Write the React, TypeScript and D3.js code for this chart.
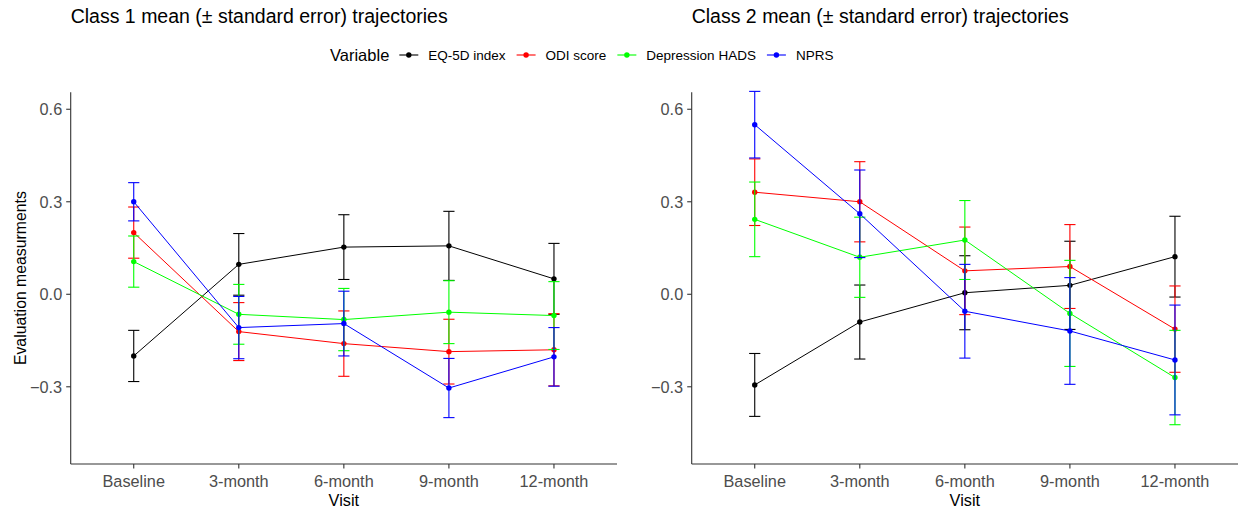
import React from 'react';
import * as d3 from 'd3';

const visits = ['Baseline', '3-month', '6-month', '9-month', '12-month'];
const variables = ['EQ-5D index', 'ODI score', 'Depression HADS', 'NPRS'];
const varColors = ['#000000', '#ff0000', '#00ff00', '#0000ff'];
const yTicks = [-0.3, 0, 0.3, 0.6];

// Class 1 means and standard errors (one row per variable, one value per visit)
const class1Mean = [
  [-0.2, 0.097, 0.153, 0.157, 0.05],
  [0.2, -0.121, -0.16, -0.186, -0.18],
  [0.106, -0.065, -0.082, -0.058, -0.069],
  [0.3, -0.108, -0.095, -0.304, -0.203],
];
const class1Se = [
  [0.083, 0.1, 0.105, 0.112, 0.115],
  [0.083, 0.094, 0.106, 0.105, 0.117],
  [0.083, 0.097, 0.101, 0.102, 0.11],
  [0.062, 0.101, 0.105, 0.096, 0.095],
];

// Class 2
const class2Mean = [
  [-0.294, -0.09, 0.005, 0.029, 0.122],
  [0.331, 0.3, 0.076, 0.09, -0.113],
  [0.243, 0.12, 0.176, -0.062, -0.27],
  [0.55, 0.261, -0.055, -0.119, -0.213],
];
const class2Se = [
  [0.102, 0.12, 0.12, 0.143, 0.131],
  [0.108, 0.13, 0.142, 0.136, 0.14],
  [0.121, 0.13, 0.128, 0.172, 0.153],
  [0.108, 0.142, 0.152, 0.173, 0.178],
];

const FONT = "'Liberation Sans', Arial, sans-serif";
const W = 1238;
const H = 512;
const TOP = 92.3;
const BOTTOM = 464;
const TICK_FS = 16.3;

const y = d3.scaleLinear().domain([-0.5504, 0.655]).range([BOTTOM, TOP]);
const fmt = d3.format('.1f');

type PanelProps = {
  x0: number;
  x1: number;
  title: string;
  means: number[][];
  ses: number[][];
  yLabel?: boolean;
};

const Panel = ({ x0, x1, title, means, ses, yLabel }: PanelProps) => {
  const x = d3.scalePoint<string>().domain(visits).range([x0, x1]).padding(0.6);
  const line = d3
    .line<number>()
    .x((_, i) => x(visits[i]) as number)
    .y((d) => y(d));
  const cap = 5.6;

  return (
    <g>
      <text x={x0} y={23.3} fontSize={19.5} fill="#000" fontFamily={FONT}>
        {title}
      </text>

      {/* axes */}
      <line x1={x0} x2={x0} y1={TOP} y2={BOTTOM} stroke="#333" strokeWidth={1.1} />
      <line x1={x0} x2={x1} y1={BOTTOM} y2={BOTTOM} stroke="#333" strokeWidth={1.1} />
      {yTicks.map((t) => (
        <g key={t}>
          <line x1={x0 - 4.5} x2={x0} y1={y(t)} y2={y(t)} stroke="#333" strokeWidth={1.1} />
          <text
            x={x0 - 8.5}
            y={y(t)}
            dy="0.36em"
            textAnchor="end"
            fontSize={TICK_FS}
            fill="#4d4d4d"
            fontFamily={FONT}
          >
            {fmt(t)}
          </text>
        </g>
      ))}
      {visits.map((v) => (
        <g key={v}>
          <line x1={x(v)} x2={x(v)} y1={BOTTOM} y2={BOTTOM + 4.5} stroke="#333" strokeWidth={1.1} />
          <text x={x(v)} y={486.7} textAnchor="middle" fontSize={TICK_FS} fill="#4d4d4d" fontFamily={FONT}>
            {v}
          </text>
        </g>
      ))}
      <text x={(x0 + x1) / 2} y={506} textAnchor="middle" fontSize={16.3} fill="#000" fontFamily={FONT}>
        Visit
      </text>
      {yLabel && (
        <text
          transform={`translate(26,${(TOP + BOTTOM) / 2}) rotate(-90)`}
          textAnchor="middle"
          fontSize={15.8}
          fill="#000"
          fontFamily={FONT}
        >
          Evaluation measurments
        </text>
      )}

      {/* series */}
      {variables.map((name, k) => (
        <g key={name}>
          <path d={line(means[k]) || ''} fill="none" stroke={varColors[k]} strokeWidth={1} />
          {means[k].map((m, i) => {
            const cx = x(visits[i]) as number;
            const lo = y(m - ses[k][i]);
            const hi = y(m + ses[k][i]);
            return (
              <g key={i} stroke={varColors[k]} strokeWidth={1.1}>
                <line x1={cx} x2={cx} y1={lo} y2={hi} />
                <line x1={cx - cap} x2={cx + cap} y1={lo} y2={lo} />
                <line x1={cx - cap} x2={cx + cap} y1={hi} y2={hi} />
              </g>
            );
          })}
          {means[k].map((m, i) => (
            <circle key={i} cx={x(visits[i])} cy={y(m)} r={2.7} fill={varColors[k]} />
          ))}
        </g>
      ))}
    </g>
  );
};

const measure = (txt: string, size: number) => {
  const ctx = document.createElement('canvas').getContext('2d');
  if (!ctx) return txt.length * size * 0.5;
  ctx.font = `${size}px ${FONT}`;
  return ctx.measureText(txt).width;
};

const Legend = () => {
  const titleSize = 16.5;
  const labelSize = 13.5;
  let cursor = 330;
  const titleX = cursor;
  cursor += measure('Variable', titleSize) + 10;
  const items = variables.map((name, k) => {
    const keyX = cursor;
    const labelX = keyX + 19 + 10;
    cursor = labelX + measure(name, labelSize) + 11;
    return { name, color: varColors[k], keyX, labelX };
  });
  const cy = 55;
  return (
    <g>
      <text x={titleX} y={cy} dy="0.35em" fontSize={titleSize} fill="#000" fontFamily={FONT}>
        Variable
      </text>
      {items.map((it) => (
        <g key={it.name}>
          <line x1={it.keyX} x2={it.keyX + 19} y1={cy} y2={cy} stroke={it.color} strokeWidth={1.1} />
          <circle cx={it.keyX + 9.5} cy={cy} r={2.7} fill={it.color} />
          <text x={it.labelX} y={cy} dy="0.35em" fontSize={labelSize} fill="#000" fontFamily={FONT}>
            {it.name}
          </text>
        </g>
      ))}
    </g>
  );
};

export default function App() {
  return (
    <svg
      width={W}
      height={H}
      style={{ position: 'absolute', left: 0, top: 0, background: '#fff' }}
    >
      <rect width={W} height={H} fill="#fff" />
      <Panel
        x0={70.7}
        x1={617}
        title="Class 1 mean (± standard error) trajectories"
        means={class1Mean}
        ses={class1Se}
        yLabel
      />
      <Panel
        x0={691.7}
        x1={1238}
        title="Class 2 mean (± standard error) trajectories"
        means={class2Mean}
        ses={class2Se}
      />
      <Legend />
    </svg>
  );
}
